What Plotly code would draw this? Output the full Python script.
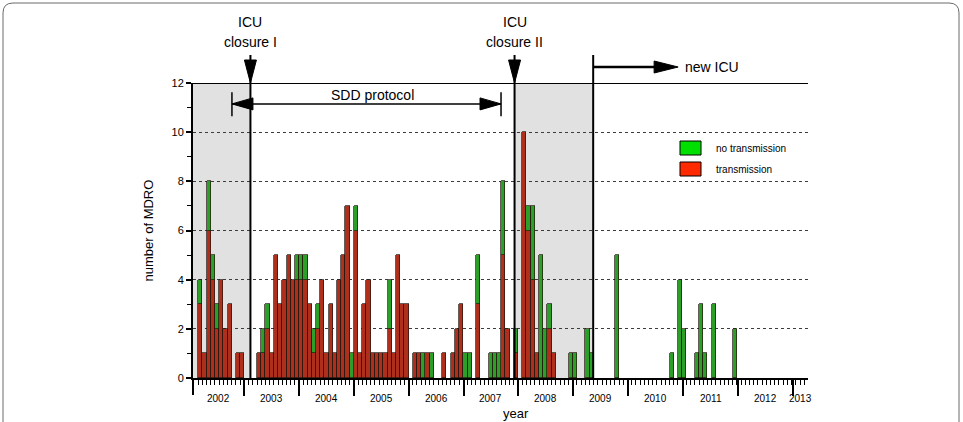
import plotly.graph_objects as go
from datetime import date, timedelta

# ---------------- data ----------------
# 4-week surveillance periods, numbered from the first period shown (mid-point of period 0)
FIRST_PERIOD_MID = date(2002, 3, 16)
PERIOD_DAYS = 28

period = [0, 1, 2, 3, 4, 5, 6, 7, 9, 10,
          14, 15, 16, 17, 18, 19, 20, 21, 22, 23,
          24, 25, 26, 27, 28, 29, 30, 31, 32, 33, 34, 35, 36,
          37, 38, 39, 40, 41, 42, 43, 44, 45, 46, 47, 48, 49,
          51, 52, 53, 54, 55, 58, 60, 61, 62,
          63, 64, 66, 69, 70, 71, 72, 73, 75,
          77, 78, 79, 80, 81, 82, 83, 84, 88, 89,
          92, 93, 99, 112, 114, 115, 118, 119, 120, 122, 127]
transmission = [3, 1, 6, 4, 2, 4, 2, 3, 1, 1,
                1, 1, 2, 1, 5, 3, 4, 5, 4, 4,
                4, 4, 3, 1, 2, 4, 1, 3, 1, 4, 5, 7, 0,
                6, 1, 3, 4, 1, 1, 1, 1, 2, 1, 5, 3, 3,
                1, 1, 0, 1, 0, 1, 1, 2, 3,
                0, 0, 3, 0, 0, 0, 5, 2, 1,
                10, 6, 4, 1, 0, 0, 2, 1, 0, 0,
                0, 0, 0, 0, 0, 0, 0, 0, 0, 0, 0]
no_transmission = [1, 0, 2, 1, 1, 0, 0, 0, 0, 0,
                   0, 1, 1, 0, 0, 0, 0, 0, 0, 1,
                   1, 1, 0, 1, 1, 0, 0, 0, 0, 0, 0, 0, 1,
                   1, 0, 0, 0, 0, 0, 0, 0, 2, 0, 0, 0, 0,
                   0, 0, 1, 0, 1, 0, 0, 0, 0,
                   1, 1, 2, 1, 1, 1, 3, 0, 1,
                   0, 1, 3, 0, 5, 2, 1, 0, 1, 1,
                   2, 1, 5, 1, 4, 2, 1, 3, 1, 3, 2]
years = list(range(2002, 2014))

# events
closure_1 = date(2003, 2, 13)
closure_2 = date(2007, 12, 6)
new_icu = date(2009, 5, 12)
sdd_start = date(2002, 10, 13)
sdd_end = date(2007, 9, 7)
new_icu_arrow_base = date(2010, 7, 4)
new_icu_arrow_tip = date(2010, 11, 28)

x_start = date(2002, 1, 27)
x_end = date(2013, 4, 10)

# ---------------- style ----------------
FONT = "Liberation Sans, Arial, Helvetica, sans-serif"
RED = "#ad2f1c"
GREEN = "#2b9f27"
EDGE = "#24160f"
GRAY = "#e1e1e1"

L, R, T, B = 193, 155, 83, 44
W_, H_ = 963, 422
PW, PH = W_ - L - R, H_ - T - B


def px(xp):
    return (xp - L) / PW


def py(yp):
    return (H_ - B - yp) / PH


mids = [(FIRST_PERIOD_MID + timedelta(days=PERIOD_DAYS * p)).isoformat() for p in period]
bar_w = PERIOD_DAYS * 86400000

fig = go.Figure()
fig.add_bar(x=mids, y=[v if v else None for v in transmission], width=bar_w,
            marker=dict(color=RED, line=dict(color=EDGE, width=0.7)),
            name="transmission", showlegend=False)
fig.add_bar(x=mids, y=[v if v else None for v in no_transmission], width=bar_w,
            marker=dict(color=GREEN, line=dict(color=EDGE, width=0.7)),
            name="no transmission", showlegend=False)

shapes = []
# shaded periods
shapes.append(dict(type="rect", xref="x", yref="y", x0=x_start.isoformat(), x1=closure_1.isoformat(),
                   y0=0, y1=12, fillcolor=GRAY, line=dict(width=0), layer="below"))
shapes.append(dict(type="rect", xref="x", yref="y", x0=closure_2.isoformat(), x1=new_icu.isoformat(),
                   y0=0, y1=12, fillcolor=GRAY, line=dict(width=0), layer="below"))
# top line at 12
shapes.append(dict(type="line", xref="paper", yref="y", x0=0, x1=1, y0=12, y1=12,
                   line=dict(color="black", width=2)))
# event vertical lines
for d in (closure_1, closure_2, new_icu):
    shapes.append(dict(type="line", xref="x", yref="paper", x0=d.isoformat(), x1=d.isoformat(),
                       y0=0, y1=py(55), line=dict(color="black", width=2)))
# down arrowheads for closures
for d in (closure_1, closure_2):
    shapes.append(dict(type="path", xref="x", yref="paper", xsizemode="pixel", ysizemode="pixel",
                       xanchor=d.isoformat(), yanchor=1, path="M -6,23 L 6,23 L 0,0 Z",
                       fillcolor="black", line=dict(color="black", width=1)))
# new ICU arrow
yn = py(67)
shapes.append(dict(type="line", xref="x", yref="paper", x0=new_icu.isoformat(),
                   x1=new_icu_arrow_base.isoformat(), y0=yn, y1=yn, line=dict(color="black", width=2.5)))
shapes.append(dict(type="path", xref="x", yref="paper", xsizemode="pixel", ysizemode="pixel",
                   xanchor=new_icu_arrow_tip.isoformat(), yanchor=yn, path="M 0,0 L -24,6 L -24,-6 Z",
                   fillcolor="black", line=dict(color="black", width=1)))
# SDD protocol double arrow
ys = 11.15
shapes.append(dict(type="line", xref="x", yref="y", x0=sdd_start.isoformat(), x1=sdd_end.isoformat(),
                   y0=ys, y1=ys, line=dict(color="black", width=1.5)))
for d in (sdd_start, sdd_end):
    shapes.append(dict(type="line", xref="x", yref="y", x0=d.isoformat(), x1=d.isoformat(),
                       y0=10.65, y1=11.62, line=dict(color="black", width=1.5)))
shapes.append(dict(type="path", xref="x", yref="y", xsizemode="pixel", ysizemode="pixel",
                   xanchor=sdd_start.isoformat(), yanchor=ys, path="M 0,0 L 21,6 L 21,-6 Z",
                   fillcolor="black", line=dict(color="black", width=1)))
shapes.append(dict(type="path", xref="x", yref="y", xsizemode="pixel", ysizemode="pixel",
                   xanchor=sdd_end.isoformat(), yanchor=ys, path="M 0,0 L -21,6 L -21,-6 Z",
                   fillcolor="black", line=dict(color="black", width=1)))
# tick at the axis start
shapes.append(dict(type="line", xref="paper", yref="paper", x0=0, x1=0, y0=0, y1=py(395),
                   line=dict(color="black", width=2)))
# legend swatches
shapes.append(dict(type="rect", xref="paper", yref="paper", x0=px(680), x1=px(701), y0=py(141), y1=py(155),
                   fillcolor="#00e000", line=dict(color="black", width=1)))
shapes.append(dict(type="rect", xref="paper", yref="paper", x0=px(680), x1=px(701), y0=py(162), y1=py(176),
                   fillcolor="#ff2a00", line=dict(color="black", width=1)))
# figure frame (rounded rectangle)
x0f, x1f, y0f, y1f = px(3), px(959), py(3), py(460)
rx, ry = 10 / PW, 10 / PH
frame = (f"M {x0f + rx},{y0f} L {x1f - rx},{y0f} Q {x1f},{y0f} {x1f},{y0f - ry} "
         f"L {x1f},{y1f} L {x0f},{y1f} L {x0f},{y0f - ry} Q {x0f},{y0f} {x0f + rx},{y0f} Z")
shapes.append(dict(type="path", xref="paper", yref="paper", path=frame,
                   line=dict(color="#6a6a6a", width=1)))

annotations = []
# year labels centred in the visible part of each year
for yr in years:
    a = max(date(yr, 1, 1), x_start)
    b = min(date(yr + 1, 1, 1), x_end)
    mid = a + (b - a) / 2
    annotations.append(dict(x=mid.isoformat(), y=py(398), xref="x", yref="paper", text=str(yr),
                            showarrow=False, font=dict(size=10, family=FONT, color="black"),
                            xanchor="center", yanchor="middle"))
annotations.append(dict(x=px(516), y=py(413), xref="paper", yref="paper", text="year", showarrow=False,
                        font=dict(size=13, family=FONT, color="black"), xanchor="center", yanchor="middle"))
annotations.append(dict(x=px(148), y=0.5, xref="paper", yref="paper", text="number of MDRO",
                        textangle=-90, showarrow=False, font=dict(size=13, family=FONT, color="black"),
                        xanchor="center", yanchor="middle"))
for d, lab in ((closure_1, "closure I"), (closure_2, "closure II")):
    annotations.append(dict(x=d.isoformat(), y=py(22), xref="x", yref="paper", text="ICU", showarrow=False,
                            font=dict(size=14, family=FONT, color="black"), xanchor="center", yanchor="middle"))
    annotations.append(dict(x=d.isoformat(), y=py(42), xref="x", yref="paper", text=lab, showarrow=False,
                            font=dict(size=14, family=FONT, color="black"), xanchor="center", yanchor="middle"))
annotations.append(dict(x=px(683), y=py(67), xref="paper", yref="paper", text="new ICU", showarrow=False,
                        font=dict(size=14, family=FONT, color="black"), xanchor="left", yanchor="middle"))
annotations.append(dict(x=px(372), y=py(95), xref="paper", yref="paper", text="SDD protocol", showarrow=False,
                        font=dict(size=14, family=FONT, color="black"), xanchor="center", yanchor="middle"))
annotations.append(dict(x=px(714), y=py(148), xref="paper", yref="paper", text="no transmission",
                        showarrow=False, font=dict(size=10, family=FONT, color="black"),
                        xanchor="left", yanchor="middle"))
annotations.append(dict(x=px(714), y=py(169), xref="paper", yref="paper", text="transmission",
                        showarrow=False, font=dict(size=10, family=FONT, color="black"),
                        xanchor="left", yanchor="middle"))

fig.update_layout(
    width=W_, height=H_,
    margin=dict(l=L, r=R, t=T, b=B, pad=0),
    paper_bgcolor="white", plot_bgcolor="white",
    barmode="stack", bargap=0,
    font=dict(family=FONT, color="black"),
    shapes=shapes, annotations=annotations,
    xaxis=dict(type="date", range=[x_start.isoformat(), x_end.isoformat()],
               showgrid=False, zeroline=False, showline=True, linecolor="black", linewidth=2,
               ticks="outside", ticklen=16, tickwidth=2, tickcolor="black",
               tick0="2002-01-01", dtick="M12", showticklabels=False,
               minor=dict(ticks="outside", ticklen=5, tickwidth=1, tickcolor="black",
                          tick0=(FIRST_PERIOD_MID - timedelta(days=PERIOD_DAYS / 2)).isoformat(),
                          dtick=PERIOD_DAYS * 86400000, showgrid=False)),
    yaxis=dict(range=[0, 12], tickvals=[0, 2, 4, 6, 8, 10, 12],
               showgrid=True, gridcolor="#3c3c3c", griddash="dot", gridwidth=1,
               zeroline=False, showline=True, linecolor="black", linewidth=2,
               ticks="outside", ticklen=5, tickwidth=1.5, tickcolor="black",
               tickfont=dict(size=11, family=FONT, color="black"),
               minor=dict(ticks="outside", ticklen=4, tickwidth=1, tickcolor="black", dtick=1, showgrid=False)),
)

fig.write_html("out.html")
